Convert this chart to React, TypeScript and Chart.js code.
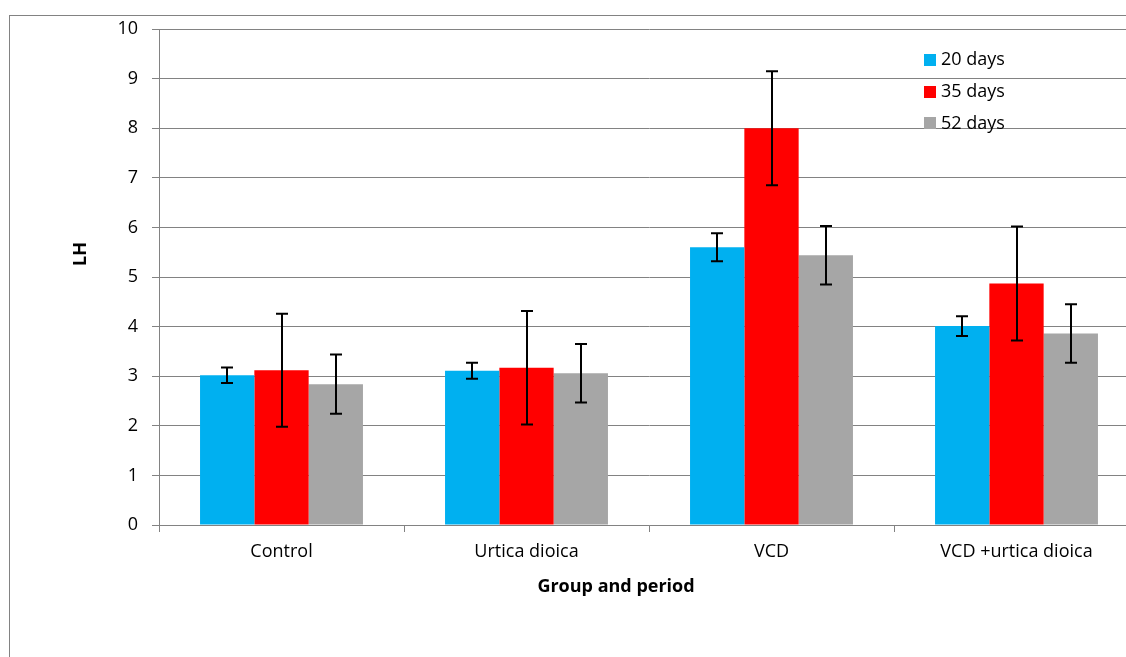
import React, { useEffect, useRef } from "react";
import { Chart, registerables } from "chart.js";

Chart.register(...registerables);

// Groups on the category axis
const groups = ["Control", "Urtica dioica", "VCD", "VCD +urtica dioica"];

// Series labels (sampling period)
const seriesNames = ["20 days", "35 days", "52 days"];
const seriesColors = ["#00B0F0", "#FF0000", "#A6A6A6"];

// Mean LH per group
const lh20 = [3.02, 3.11, 5.6, 4.01];
const lh35 = [3.12, 3.17, 8.0, 4.87];
const lh52 = [2.84, 3.06, 5.44, 3.86];

// Error bar half-lengths
const err20 = [0.155, 0.16, 0.28, 0.2];
const err35 = [1.14, 1.145, 1.15, 1.15];
const err52 = [0.595, 0.59, 0.59, 0.59];

// Value axis
const yMin = 0;
const yMax = 10;
const yStep = 1;

const yTitle = "LH";
const xTitle = "Group and period";

const FONT = "'Open Sans', sans-serif";
const FONT_SIZE = 18;
const GRID = "#828282";

const seriesValues = [lh20, lh35, lh52];
const seriesErrors = [err20, err35, err52];

const errorBars = {
  id: "errorBars",
  afterDatasetsDraw(chart: any) {
    const { ctx } = chart;
    const y = chart.scales.y;
    ctx.save();
    ctx.strokeStyle = "#000000";
    ctx.lineWidth = 2;
    seriesValues.forEach((vals, di) => {
      const meta = chart.getDatasetMeta(di);
      meta.data.forEach((bar: any, i: number) => {
        const e = seriesErrors[di][i];
        const top = y.getPixelForValue(vals[i] + e);
        const bot = y.getPixelForValue(vals[i] - e);
        const x = Math.round(bar.x);
        ctx.beginPath();
        ctx.moveTo(x, top);
        ctx.lineTo(x, bot);
        ctx.moveTo(x - 6, top);
        ctx.lineTo(x + 6, top);
        ctx.moveTo(x - 6, bot);
        ctx.lineTo(x + 6, bot);
        ctx.stroke();
      });
    });
    ctx.restore();
  },
};

const frameAndText = {
  id: "frameAndText",
  beforeDraw(chart: any) {
    const { ctx } = chart;
    ctx.save();
    ctx.fillStyle = "#ffffff";
    ctx.fillRect(0, 0, chart.width, chart.height);
    ctx.strokeStyle = GRID;
    ctx.lineWidth = 1;
    ctx.strokeRect(9.5, 15.5, 2000, 2000);
    ctx.restore();
  },
  afterDraw(chart: any) {
    const { ctx } = chart;
    ctx.save();
    ctx.fillStyle = "#000000";
    ctx.font = `bold ${FONT_SIZE}px ${FONT}`;
    ctx.textAlign = "center";
    ctx.textBaseline = "middle";
    ctx.fillText(xTitle, 616, 587);
    ctx.translate(81, 254);
    ctx.rotate(-Math.PI / 2);
    ctx.fillText(yTitle, 0, 0);
    ctx.restore();

    // legend
    ctx.save();
    ctx.font = `${FONT_SIZE}px ${FONT}`;
    ctx.textAlign = "left";
    ctx.textBaseline = "middle";
    seriesNames.forEach((name, i) => {
      const cy = 60 + i * 31.7;
      ctx.fillStyle = seriesColors[i];
      ctx.fillRect(924, Math.round(cy - 6), 12, 12);
      ctx.fillStyle = "#000000";
      ctx.fillText(name, 941, cy);
    });
    ctx.restore();
  },
};

export default function App() {
  const canvasRef = useRef<HTMLCanvasElement | null>(null);

  useEffect(() => {
    if (!canvasRef.current) return;
    const chart = new Chart(canvasRef.current, {
      type: "bar",
      data: {
        labels: groups,
        datasets: seriesNames.map((name, i) => ({
          label: name,
          data: seriesValues[i],
          backgroundColor: seriesColors[i],
          borderWidth: 0,
          categoryPercentage: 0.665,
          barPercentage: 1.0,
        })),
      },
      options: {
        animation: false,
        responsive: false,
        devicePixelRatio: 1,
        layout: { padding: { top: 29, left: 0, right: 21, bottom: 0 } },
        plugins: {
          legend: { display: false },
          tooltip: { enabled: false },
          title: { display: false },
        },
        scales: {
          x: {
            afterFit(scale: any) {
              scale.height = 175;
            },
            border: { display: true, color: GRID, width: 1 },
            grid: {
              offset: true,
              drawOnChartArea: false,
              drawTicks: true,
              tickLength: 7,
              tickColor: GRID,
              color: GRID,
            },
            ticks: {
              color: "#000000",
              padding: 9,
              font: { family: FONT, size: FONT_SIZE, lineHeight: 1.2 },
              maxRotation: 0,
              autoSkip: false,
            },
          },
          y: {
            min: yMin,
            max: yMax,
            afterFit(scale: any) {
              scale.width = 159;
            },
            border: { display: true, color: GRID, width: 1 },
            grid: {
              color: GRID,
              lineWidth: 1,
              drawTicks: true,
              tickLength: 7,
              tickColor: GRID,
            },
            ticks: {
              stepSize: yStep,
              color: "#000000",
              padding: 14,
              font: { family: FONT, size: FONT_SIZE },
            },
          },
        },
      },
      plugins: [frameAndText, errorBars],
    });
    return () => chart.destroy();
  }, []);

  return (
    <div
      style={{
        position: "fixed",
        left: 0,
        top: 0,
        width: 1126,
        height: 657,
        overflow: "hidden",
        background: "#ffffff",
      }}
    >
      <canvas ref={canvasRef} width={1160} height={700} style={{ display: "block" }} />
    </div>
  );
}
